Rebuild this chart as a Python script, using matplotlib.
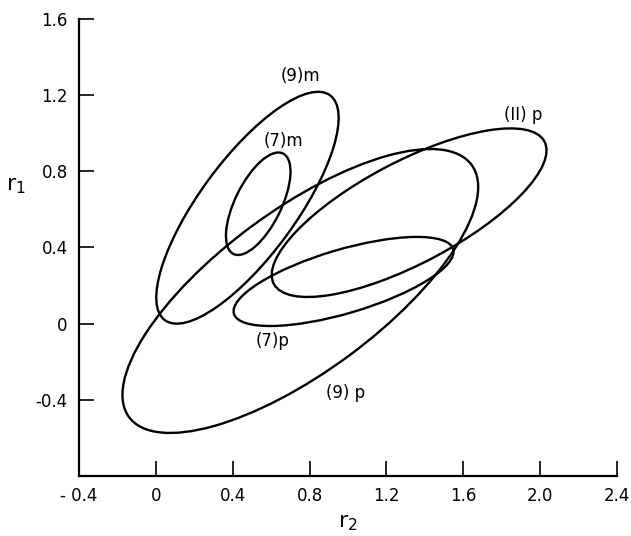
import matplotlib
matplotlib.use("Agg")
import matplotlib.pyplot as plt
from matplotlib.patches import Ellipse

# confidence ellipses in the (r2, r1) plane
nomes = ["(9)m", "(7)m", "(11)p", "(7)p", "(9)p"]
centro_r2 = [0.477, 0.533, 1.318, 0.977, 0.752]
centro_r1 = [0.608, 0.629, 0.582, 0.221, 0.171]
largura = [1.46, 0.587, 1.594, 1.19, 2.22]
altura = [0.50, 0.24, 0.535, 0.335, 0.847]
angulo = [54.0, 64.0, 28.0, 16.6, 36.7]

# label positions (data units)
rotulo_texto = ["(9)m", "(7)m", "(II) p", "(7)p", "(9) p"]
rotulo_r2 = [0.752, 0.666, 1.91, 0.61, 0.987]
rotulo_r1 = [1.300, 0.960, 1.095, -0.089, -0.363]

xticks = [-0.4, 0, 0.4, 0.8, 1.2, 1.6, 2.0, 2.4]
xtick_labels = ["- 0.4", "0", "0.4", "0.8", "1.2", "1.6", "2.0", "2.4"]
yticks = [-0.4, 0, 0.4, 0.8, 1.2, 1.6]
ytick_labels = ["-0.4", "0", "0.4", "0.8", "1.2", "1.6"]

plt.rcParams["font.family"] = ["DejaVu Sans"]

fig = plt.figure(figsize=(6.31, 5.36), dpi=100)
ax = fig.add_axes([0.125, 0.112, 0.853, 0.853])

for i in range(len(nomes)):
    e = Ellipse((centro_r2[i], centro_r1[i]), largura[i], altura[i],
                angle=angulo[i], fill=False, edgecolor="black", linewidth=1.7)
    ax.add_patch(e)

for t, x, y in zip(rotulo_texto, rotulo_r2, rotulo_r1):
    ax.text(x, y, t, ha="center", va="center", fontsize=12)

ax.set_xlim(-0.4, 2.4)
ax.set_ylim(-0.8, 1.6)
ax.set_xticks(xticks)
ax.set_xticklabels(xtick_labels)
ax.set_yticks(yticks)
ax.set_yticklabels(ytick_labels)
ax.tick_params(direction="in", length=11, width=1.2, labelsize=12, pad=8)

ax.spines["top"].set_visible(False)
ax.spines["right"].set_visible(False)
ax.spines["left"].set_linewidth(1.6)
ax.spines["bottom"].set_linewidth(1.6)

ax.set_xlabel(r"$\mathregular{r_2}$", fontsize=16, labelpad=6)
ax.set_ylabel(r"$\mathregular{r_1}$", fontsize=16, rotation=0, labelpad=14)
ax.yaxis.set_label_coords(-0.117, 0.612)

fig.savefig("out.png", dpi=100)
